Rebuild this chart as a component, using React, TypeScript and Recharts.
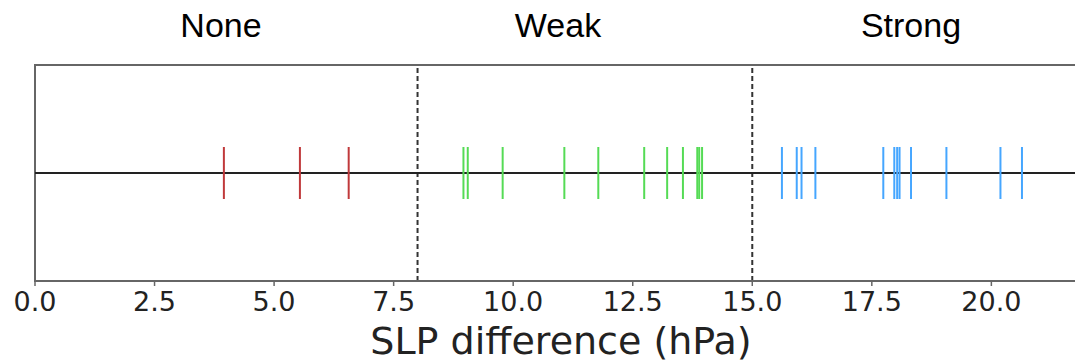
import {
  ComposedChart,
  Scatter,
  XAxis,
  YAxis,
  ReferenceLine,
  ReferenceArea,
  Label,
} from 'recharts';

// SLP differences (hPa) for each group
const noneEvents = [3.95, 5.54, 6.56];
const weakEvents = [8.96, 9.05, 9.78, 11.07, 11.78, 12.74, 13.22, 13.55, 13.85, 13.89, 13.95];
const strongEvents = [
  15.62, 15.93, 16.03, 16.32, 17.74, 17.97, 18.03, 18.08, 18.32, 19.06, 20.19, 20.64,
];

const xTicks = [0, 2.5, 5, 7.5, 10, 12.5, 15, 17.5, 20];
const thresholds = [8, 15];
const groupLabels = ['None', 'Weak', 'Strong'];
const groupLabelCenters = [221, 558, 911];

const toPoints = (values: number[]) => values.map((x) => ({ x, y: 0 }));

const WIDTH = 1100;
const HEIGHT = 362;
const HALF = 26;

const eventTick = (color: string) => (props: any) => {
  const { cx, cy } = props;
  if (cx == null || cy == null) return <g />;
  return <line x1={cx} x2={cx} y1={cy - HALF} y2={cy + HALF} stroke={color} strokeWidth={2} />;
};

const axisFont = 'DejaVu Sans, sans-serif';

export default function App() {
  return (
    <div
      style={{
        position: 'fixed',
        left: 0,
        top: 0,
        width: 1075,
        height: HEIGHT,
        overflow: 'hidden',
        background: '#fff',
      }}
    >
      <ComposedChart
        width={WIDTH}
        height={HEIGHT}
        margin={{ top: 65, right: 13, left: 35, bottom: 0 }}
      >
        <XAxis
          type="number"
          dataKey="x"
          domain={[0, 22]}
          ticks={xTicks}
          allowDataOverflow
          tickFormatter={(v: number) => v.toFixed(1)}
          height={81}
          tickSize={5}
          tickMargin={6}
          tick={{ fill: '#222', fontSize: 27, fontFamily: axisFont }}
          axisLine={{ stroke: '#666', strokeWidth: 2 }}
          tickLine={{ stroke: '#666', strokeWidth: 1.5 }}
        >
          <Label
            value="SLP difference (hPa)"
            position="insideBottom"
            offset={8}
            style={{ fill: '#222', fontSize: 38, fontFamily: axisFont }}
          />
        </XAxis>
        <YAxis type="number" dataKey="y" domain={[-1, 1]} hide />
        <ReferenceArea
          x1={0}
          x2={22}
          y1={-1}
          y2={1}
          fill="none"
          stroke="#666"
          strokeWidth={2}
          ifOverflow="visible"
        />
        {thresholds.map((t) => (
          <ReferenceLine
            key={t}
            x={t}
            stroke="#333"
            strokeWidth={2}
            strokeDasharray="5 3"
          />
        ))}
        <Scatter
          data={toPoints(noneEvents)}
          shape={eventTick('#c0393b')}
          isAnimationActive={false}
        />
        <Scatter
          data={toPoints(weakEvents)}
          shape={eventTick('#55db55')}
          isAnimationActive={false}
        />
        <Scatter
          data={toPoints(strongEvents)}
          shape={eventTick('#45a6ff')}
          isAnimationActive={false}
        />
        <ReferenceLine y={0} stroke="#222" strokeWidth={2.2} />
      </ComposedChart>
      <svg
        width={1075}
        height={60}
        style={{ position: 'absolute', left: 0, top: 0, pointerEvents: 'none' }}
      >
        {groupLabels.map((name, i) => (
          <text
            key={name}
            x={groupLabelCenters[i]}
            y={37}
            textAnchor="middle"
            fontFamily="Liberation Sans, Arial, sans-serif"
            fontSize={34}
            fill="#000"
          >
            {name}
          </text>
        ))}
      </svg>
    </div>
  );
}
